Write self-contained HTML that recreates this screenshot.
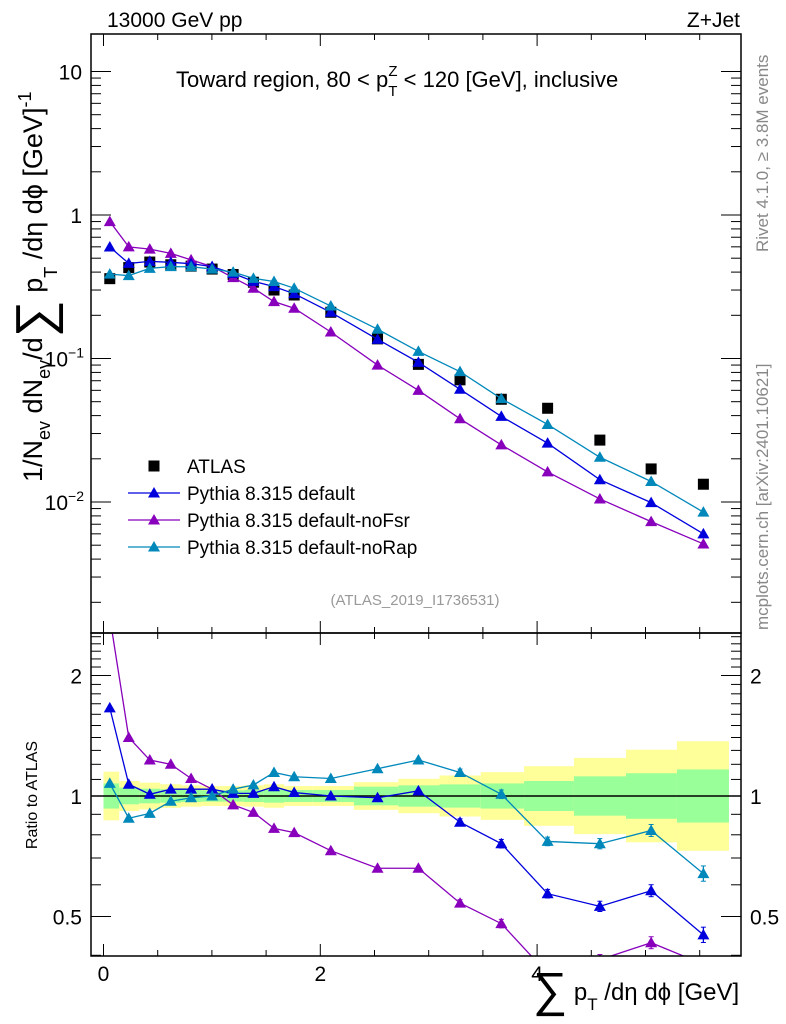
<!DOCTYPE html>
<html><head><meta charset="utf-8"><style>
body{margin:0;background:#fff}
svg{display:block;font-family:"Liberation Sans",sans-serif}
</style></head><body>
<svg id="c" width="786" height="1024" viewBox="0 0 786 1024"></svg>
<script>
const xCenters=[0.058,0.233,0.427,0.621,0.808,1.002,1.196,1.383,1.573,1.759,2.097,2.528,2.905,3.289,3.67,4.097,4.579,5.052,5.534];
const binEdges=[0,0.145,0.33,0.524,0.715,0.905,1.1,1.29,1.478,1.666,1.93,2.31,2.72,3.1,3.48,3.88,4.34,4.82,5.29,5.77];
const atlasVals=[0.36,0.43,0.47,0.45,0.44,0.42,0.385,0.34,0.30,0.277,0.21,0.137,0.091,0.071,0.052,0.045,0.027,0.017,0.0133];
const defaultVals=[0.598,0.46,0.475,0.468,0.458,0.437,0.391,0.345,0.317,0.283,0.21,0.136,0.094,0.061,0.0395,0.0257,0.0143,0.0099,0.006];
const noFsrVals=[0.9,0.60,0.578,0.54,0.487,0.437,0.366,0.309,0.249,0.224,0.153,0.090,0.060,0.038,0.025,0.0162,0.0105,0.0073,0.0051];
const noRapVals=[0.387,0.378,0.425,0.437,0.436,0.42,0.40,0.362,0.344,0.309,0.232,0.160,0.112,0.081,0.0525,0.0347,0.0205,0.0139,0.0085];
const defaultRatio=[1.66,1.07,1.01,1.04,1.04,1.04,1.015,1.015,1.055,1.02,1.0,0.99,1.03,0.86,0.76,0.57,0.53,0.58,0.45];
const noFsrRatio=[2.8,1.40,1.23,1.20,1.106,1.04,0.95,0.91,0.83,0.81,0.73,0.66,0.66,0.54,0.48,0.36,0.39,0.43,0.38];
const noRapRatio=[1.075,0.88,0.905,0.97,0.99,1.0,1.04,1.065,1.145,1.117,1.106,1.17,1.23,1.145,1.01,0.77,0.76,0.82,0.64];
const ratioErr=[0.01,0.01,0.01,0.01,0.01,0.01,0.01,0.01,0.01,0.01,0.01,0.01,0.01,0.02,0.025,0.025,0.03,0.035,0.045];
const yellowBand=[0.15,0.09,0.08,0.07,0.063,0.059,0.059,0.063,0.07,0.059,0.059,0.083,0.104,0.125,0.147,0.187,0.245,0.305,0.37];
const greenBand=[0.075,0.049,0.043,0.039,0.035,0.033,0.033,0.035,0.039,0.035,0.035,0.055,0.063,0.069,0.075,0.09,0.12,0.14,0.165];
const xTicks=[0,2,4];
const mainTicks=[[10,"10"],[1,"1"]];
const ratioTicks=[[2,"2"],[1,"1"],[0.5,"0.5"]];

const NS="http://www.w3.org/2000/svg",svg=document.getElementById('c');
function el(t,a,p){const e=document.createElementNS(NS,t);for(const k in a)e.setAttribute(k,a[k]);(p||svg).appendChild(e);return e;}
const L=91,R=741,T=34,M=633,B=956;
const X=v=>103.5+v*108.4;
const Y=v=>215-Math.log10(v)*143.5;
const YR=v=>796-Math.log2(v)*120.5;
const defs=el('defs',{});
const cp1=el('clipPath',{id:'cm'},defs);el('rect',{x:L,y:T,width:R-L,height:M-T},cp1);
const cp2=el('clipPath',{id:'cr'},defs);el('rect',{x:L,y:M,width:R-L,height:B-M},cp2);

const gR=el('g',{'clip-path':'url(#cr)'});

binEdges.slice(0,-1).forEach((x0,i)=>{
  const x1=binEdges[i+1];
  const y=el('rect',{x:X(x0),y:YR(1+yellowBand[i]),width:X(x1)-X(x0),height:YR(1/(1+yellowBand[i]))-YR(1+yellowBand[i]),fill:'#ffff99'},gR);
  
  const g=el('rect',{x:X(x0),y:YR(1+greenBand[i]),width:X(x1)-X(x0),height:YR(1/(1+greenBand[i]))-YR(1+greenBand[i]),fill:'#99ff99'},gR);
  
});
el('line',{x1:L,x2:R,y1:YR(1),y2:YR(1),stroke:'#000','stroke-width':1.5},gR);

function tri(x,y,c,p,name){const t=el('path',{d:`M${x} ${y-6}L${x+6} ${y+4.5}L${x-6} ${y+4.5}Z`,fill:c},p);}
function series(vals,yf,c,p,name,err){
  const pl=el('polyline',{points:vals.map((v,i)=>X(xCenters[i])+','+yf(v)).join(' '),fill:'none',stroke:c,'stroke-width':1.3},p);
  
  vals.forEach((v,i)=>{
    if(err&&err[i]>0.015){const x=X(xCenters[i]);el('line',{x1:x,x2:x,y1:yf(v*(1+err[i])),y2:yf(v/(1+err[i])),stroke:c,'stroke-width':1.3},p);
      el('line',{x1:x-2.5,x2:x+2.5,y1:yf(v*(1+err[i])),y2:yf(v*(1+err[i])),stroke:c},p);el('line',{x1:x-2.5,x2:x+2.5,y1:yf(v/(1+err[i])),y2:yf(v/(1+err[i])),stroke:c},p);}
    tri(X(xCenters[i]),yf(v),c,p,name+'-point');
  });
}
const cB='#0000dd',cP='#8800bb',cT='#0088bb';
series(noFsrRatio,YR,cP,gR,'ratio-nofsr',ratioErr);
series(defaultRatio,YR,cB,gR,'ratio-default',ratioErr);
series(noRapRatio,YR,cT,gR,'ratio-norap',ratioErr);

const gM=el('g',{'clip-path':'url(#cm)'});

atlasVals.forEach((v,i)=>{const r=el('rect',{x:X(xCenters[i])-5.5,y:Y(v)-5.5,width:11,height:11,fill:'#000'},gM);});
series(noFsrVals,Y,cP,gM,'nofsr');
series(defaultVals,Y,cB,gM,'default');
series(noRapVals,Y,cT,gM,'norap');

el('rect',{x:L,y:T,width:R-L,height:M-T,fill:'none',stroke:'#000','stroke-width':1.5});
el('rect',{x:L,y:M,width:R-L,height:B-M,fill:'none',stroke:'#000','stroke-width':1.5});
for(let v=0;v<=5.9;v+=0.5){const x=X(v),big=Math.abs(v-Math.round(v/2)*2)<1e-6;const l=big?12:6;
  [[T,1],[M,-1],[M,1],[B,-1]].forEach(([y,d])=>el('line',{x1:x,x2:x,y1:y,y2:y+d*l,stroke:'#000'}));}
function txt(s,x,y,a,extra){const t=el('text',Object.assign({x,y,'font-size':18,'text-anchor':a||'start'},extra||{}));t.textContent=s;return t;}
xTicks.forEach(v=>{const t=txt(String(v),X(v),981,'middle',{'font-size':21});});
for(let d=-3;d<=1;d++)for(let m=1;m<10;m++){const v=m*Math.pow(10,d),y=Y(v);if(y<T||y>M)continue;const l=m==1?20:10;
  el('line',{x1:L,x2:L+l,y1:y,y2:y,stroke:'#000'});el('line',{x1:R,x2:R-l,y1:y,y2:y,stroke:'#000'});}
mainTicks.forEach(([v,s])=>{const t=txt(s,82,Y(v)+8,'end',{'font-size':21});});
[[-1,Y(0.1)],[-2,Y(0.01)]].forEach(([e,y])=>{const t=el('text',{x:84,y:y+8,'font-size':21,'text-anchor':'end'});t.innerHTML='10<tspan dy="-9" font-size="14">−'+(-e)+'</tspan>';});
for(let v=0.4;v<=2.55;v+=0.1){const y=YR(v);if(y<M||y>B)continue;const big=[0.5,1,2].some(b=>Math.abs(b-v)<1e-6);const l=big?20:10;
  el('line',{x1:L,x2:L+l,y1:y,y2:y,stroke:'#000'});el('line',{x1:R,x2:R-l,y1:y,y2:y,stroke:'#000'});}
ratioTicks.forEach(([v,s])=>{[[82,'end'],[750,'start']].forEach(([x,a])=>{const t=txt(s,x,YR(v)+8,a,{'font-size':21});});});

let t;
t=txt('13000 GeV pp',107,27,'start',{'font-size':21});
t=txt('Z+Jet',740,27,'end',{'font-size':21});
t=el('text',{x:176,y:87,'font-size':22});t.innerHTML='Toward region, 80 &lt; p<tspan dy="9" font-size="15">T</tspan><tspan dx="-9" dy="-20" font-size="15">Z</tspan><tspan dy="11"> &lt; 120 [GeV], inclusive</tspan>';

t=txt('(ATLAS_2019_I1736531)',415,605,'middle',{'font-size':15,fill:'#999'});
t=txt('Rivet 4.1.0, ≥ 3.8M events',768,252,'start',{'font-size':17,fill:'#888',transform:'rotate(-90 768 252)'});
t=txt('mcplots.cern.ch [arXiv:2401.10621]',768,630,'start',{'font-size':17,fill:'#888',transform:'rotate(-90 768 630)'});
t=el('text',{x:0,y:0,'font-size':27,transform:'translate(42 482) rotate(-90)'});
t.innerHTML='1/N<tspan dy="8" font-size="18">ev</tspan><tspan dy="-8"> dN</tspan><tspan dy="8" font-size="18">ev</tspan><tspan dy="-8">/d</tspan><tspan font-size="52" dy="10">∑</tspan><tspan dy="-10"> p</tspan><tspan dy="15" font-size="18">T</tspan><tspan dy="-15"> /dη dϕ  [GeV]</tspan><tspan dy="-11" font-size="18">-1</tspan>';

t=txt('Ratio to ATLAS',37,795,'middle',{'font-size':16,transform:'rotate(-90 37 795)'});
t=el('text',{x:533,y:1000,'font-size':24});t.innerHTML='<tspan font-size="48" dy="6">∑</tspan><tspan dy="-6"> p</tspan><tspan dy="10" font-size="17">T</tspan><tspan dy="-10"> /dη dϕ [GeV]</tspan>';


const lg=el('g',{});
const le=[['ATLAS',null],['Pythia 8.315 default',cB],['Pythia 8.315 default-noFsr',cP],['Pythia 8.315 default-noRap',cT]];
le.forEach(([s,c],i)=>{const y=466+i*27;
  const g=el('g',{},lg);
  if(c){el('line',{x1:128,x2:180,y1:y,y2:y,stroke:c,'stroke-width':1.3},g);tri(154,y,c,g,'legend-marker');}
  else{el('rect',{x:148.5,y:y-5.5,width:11,height:11,fill:'#000'},g);}
  const tt=el('text',{x:187,y:y+7,'font-size':19},g);tt.textContent=s;});
</script>
</body></html>
